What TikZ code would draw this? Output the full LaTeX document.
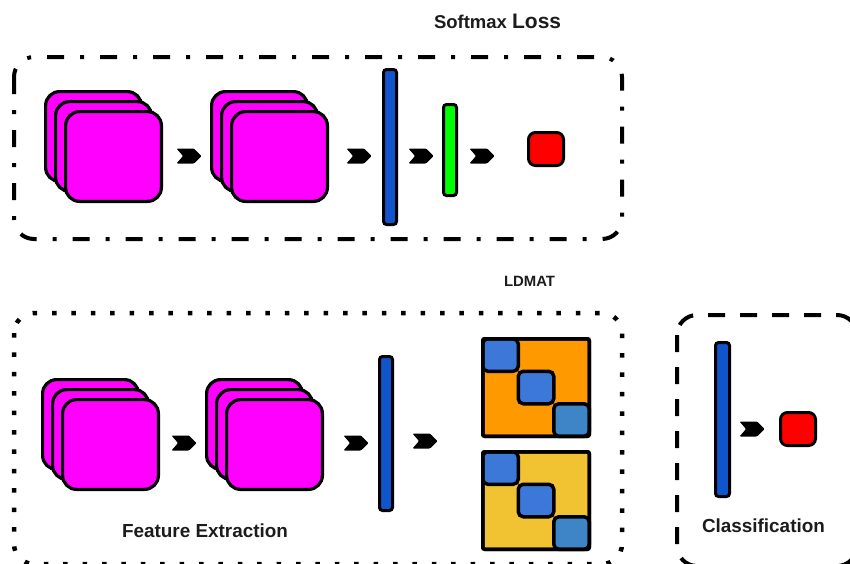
\documentclass[tikz,border=0pt]{standalone}
\usepackage{fontspec}
\setmainfont{Liberation Sans}
\usetikzlibrary{calc}
\definecolor{ink}{HTML}{000000}
\definecolor{txt}{HTML}{1C1C1C}
\definecolor{fmapfill}{HTML}{FF00FF}
\definecolor{barblue}{HTML}{1155CC}
\definecolor{bargreen}{HTML}{00FF00}
\definecolor{outred}{HTML}{FF0000}
\definecolor{matorange}{HTML}{FF9900}
\definecolor{matyellow}{HTML}{F1C232}
\definecolor{blkblue}{HTML}{3C78D8}
\definecolor{blkteal}{HTML}{3D85C6}
\begin{document}
\begin{tikzpicture}[x=1pt,y=-1pt,
  fmap/.style={draw=ink, line width=3.2pt, fill=fmapfill, rounded corners=14pt,
    inner sep=0pt, outer sep=0pt, minimum width=95.8pt, minimum height=89.8pt, anchor=north west},
  vecbar/.style={draw=ink, line width=3pt, rounded corners=3pt, inner sep=0pt,
    outer sep=0pt, minimum width=13pt, anchor=north west},
  outbox/.style={draw=ink, line width=3pt, fill=outred, rounded corners=7pt, inner sep=0pt,
    outer sep=0pt, minimum width=35pt, minimum height=33pt, anchor=north west},
  matbox/.style={draw=ink, line width=3.5pt, rounded corners=2pt, inner sep=0pt,
    outer sep=0pt, minimum width=106.5pt, minimum height=97.5pt, anchor=north west},
  blk/.style={draw=ink, line width=3.5pt, rounded corners=5pt},
  dashdotbox/.style={draw=ink, line width=4pt, rounded corners=20pt,
    dash pattern=on 17pt off 16pt on 4pt off 16pt},
  dotbox/.style={draw=ink, line width=4.5pt, rounded corners=20pt,
    dash pattern=on 4.5pt off 14.9pt},
  dashbox/.style={draw=ink, line width=4pt, rounded corners=20pt,
    dash pattern=on 17pt off 15pt},
  lbl/.style={text=txt, font=\bfseries, inner sep=0pt, outer sep=0pt, anchor=base west},
]
\useasboundingbox (0,0) rectangle (850,563);

% chevron-shaped flow marker
\newcommand\chevmark[1]{%
  \fill[ink, rounded corners=1pt, shift={(#1)}]
    (-12.5,-7.5) -- (5,-7.5) -- (12.5,0) -- (5,7.5) -- (-12.5,7.5) -- (-6,0) -- cycle;}

% diagonal block matrix: #1 node name
\newcommand\blockmat[1]{%
  \foreach \i/\c in {0/blkblue,1/blkblue,2/blkteal}{%
    \path[blk, fill=\c]
      ($(#1.north west)+(\i*35.5,\i*32.5)$) rectangle ++(35.5,32.5);}
  \draw[ink, line width=3.5pt, rounded corners=2pt] (#1.north west) rectangle (#1.south east);}

% ---------------- group boxes ----------------
\draw[dashdotbox] (14,57) rectangle (622,239);
\draw[dotbox] (14,313) rectangle (622,564);
\draw[dashbox] (677,315) rectangle (857,566);

% ---------------- titles ----------------
\node[lbl] (tsoft) at (434,28) {\fontsize{18.5}{20}\selectfont Softmax \fontsize{21}{22}\selectfont Loss};
\node[lbl] (tldmat) at (504,286) {\fontsize{14.9}{16}\selectfont LDMAT};
\node[lbl] (tfeat) at (122,537) {\fontsize{18.9}{20}\selectfont Feature Extraction};
\node[lbl] (tcls) at (702,532) {\fontsize{18.9}{20}\selectfont Classification};

% ---------------- softmax branch ----------------
\node[fmap] (a1c) at (45.6,91.6) {};
\node[fmap] (a1b) at (55.6,101.6) {};
\node[fmap] (a1a) at (65.6,111.6) {};
\node[fmap] (a2c) at (211.6,91.6) {};
\node[fmap] (a2b) at (221.6,101.6) {};
\node[fmap] (a2a) at (231.6,111.6) {};
\node[vecbar, fill=barblue, minimum height=155pt] (afc) at (383.5,69.5) {};
\node[vecbar, fill=bargreen, minimum height=91pt] (agr) at (443.5,104.5) {};
\node[outbox] (aout) at (528.5,132.5) {};

\chevmark{189,156}
\chevmark{359,156}
\chevmark{421,156}
\chevmark{482,156}

% ---------------- LDMAT branch ----------------
\node[fmap] (b1c) at (42.6,379.6) {};
\node[fmap] (b1b) at (52.6,389.6) {};
\node[fmap] (b1a) at (62.6,399.6) {};
\node[fmap] (b2c) at (206.6,379.6) {};
\node[fmap] (b2b) at (216.6,389.6) {};
\node[fmap] (b2a) at (226.6,399.6) {};
\node[vecbar, fill=barblue, minimum height=154pt] (bfc) at (379.5,356.5) {};

\node[matbox, fill=matorange] (m1) at (482.75,338.75) {};
\node[matbox, fill=matyellow] (m2) at (482.75,451.75) {};
\blockmat{m1}
\blockmat{m2}

\chevmark{184,443}
\chevmark{356,443}
\chevmark{425,441}

% ---------------- classification ----------------
\node[vecbar, fill=barblue, minimum width=14pt, minimum height=154pt] (cfc) at (715.5,342.5) {};
\node[outbox] (cout) at (780.5,412.5) {};
\chevmark{752,429}
\end{tikzpicture}
\end{document}
